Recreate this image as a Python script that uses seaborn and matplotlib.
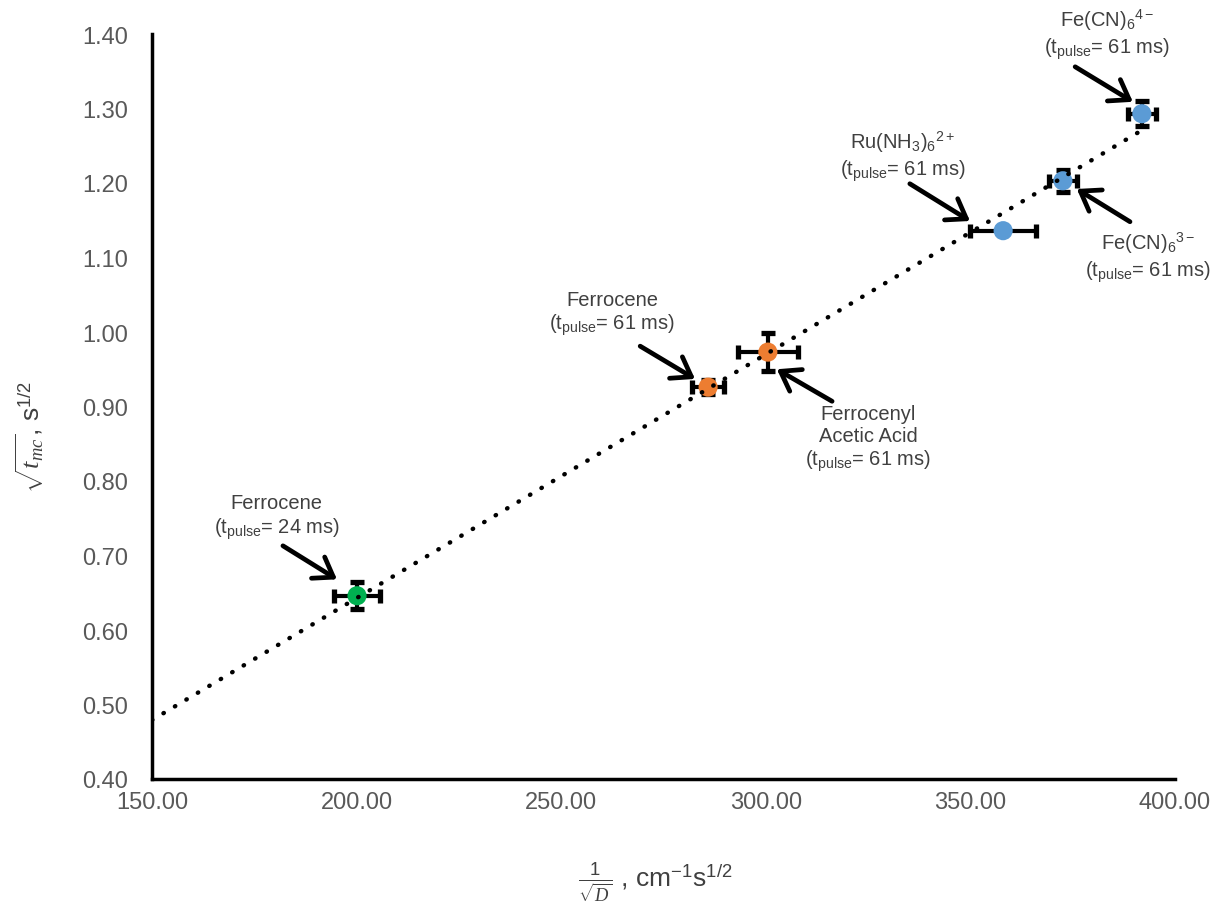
import numpy as np
import pandas as pd
import matplotlib
matplotlib.use("Agg")
import matplotlib.pyplot as plt
import seaborn as sns

# ---- data ----
species = ["Ferrocene 24 ms", "Ferrocene 61 ms", "Ferrocenyl Acetic Acid",
           "Ru(NH3)6 2+", "Fe(CN)6 3-", "Fe(CN)6 4-"]
group = ["green", "orange", "orange", "blue", "blue", "blue"]
inv_sqrt_d = [200.1, 285.9, 300.5, 358.0, 372.6, 391.9]
sqrt_tmc = [0.646, 0.926, 0.973, 1.136, 1.203, 1.293]
x_err = [5.7, 3.9, 7.3, 8.1, 3.5, 3.4]
y_err = [0.018, 0.009, 0.025, 0.003, 0.015, 0.017]
x_ticks = [150, 200, 250, 300, 350, 400]
y_ticks = [0.40, 0.50, 0.60, 0.70, 0.80, 0.90, 1.00, 1.10, 1.20, 1.30, 1.40]

palette = {"green": "#00B050", "orange": "#ED7D31", "blue": "#5B9BD5"}

df = pd.DataFrame({"species": species, "group": group, "x": inv_sqrt_d,
                   "y": sqrt_tmc, "xerr": x_err, "yerr": y_err})

# annotations: label text, text position, arrow tail, arrow tip (data coords)
pulse61 = "(t$_{\\mathrm{pulse}}$= 61 ms)"
labels = [
    ("Ferrocene\n(t$_{\\mathrm{pulse}}$= 24 ms)", (180.5, 0.752), (182.0, 0.713), (195.2, 0.668)),
    ("Ferrocene\n" + pulse61, (262.4, 1.025), (269.3, 0.981), (282.7, 0.937)),
    ("Ferrocenyl\nAcetic Acid\n" + pulse61, (325.0, 0.857), (316.2, 0.907), (302.7, 0.950)),
    ("Ru(NH$_{\\mathrm{3}}$)$_{\\mathrm{6}}$$^{\\mathrm{2+}}$\n" + pulse61, (333.5, 1.236), (335.2, 1.199), (349.9, 1.149)),
    ("Fe(CN)$_{\\mathrm{6}}$$^{\\mathrm{3-}}$\n" + pulse61, (393.4, 1.101), (389.0, 1.148), (376.0, 1.192)),
    ("Fe(CN)$_{\\mathrm{6}}$$^{\\mathrm{4-}}$\n" + pulse61, (383.4, 1.400), (375.6, 1.356), (389.7, 1.309)),
]

sns.set_theme(style="white")
plt.rcParams["font.family"] = ["Liberation Sans", "DejaVu Sans"]
plt.rcParams["mathtext.fontset"] = "custom"
plt.rcParams["mathtext.rm"] = "Liberation Sans"
plt.rcParams["mathtext.it"] = "Liberation Serif:italic"
plt.rcParams["mathtext.bf"] = "Liberation Sans:bold"

fig = plt.figure(figsize=(12.16, 9.04), dpi=100)
ax = fig.add_axes([152 / 1216, 1 - 780 / 904, 1023 / 1216, 745 / 904])

# error bars
ax.errorbar(df["x"], df["y"], xerr=df["xerr"], yerr=df["yerr"], fmt="none",
            ecolor="black", elinewidth=3.0, capsize=5, capthick=3.8, zorder=2)

# markers
sns.scatterplot(data=df, x="x", y="y", hue="group", palette=palette, s=190,
                edgecolor="none", legend=False, ax=ax, zorder=3)

# linear trendline
slope, intercept = np.polyfit(df["x"], df["y"], 1)
xl = np.linspace(150, max(inv_sqrt_d), 50)
ax.plot(xl, slope * xl + intercept, color="black", lw=3.2,
        linestyle=(0, (0.1, 2.9)), dash_capstyle="round", zorder=4)

# annotations
for txt, tpos, tail, tip in labels:
    ax.annotate("", xy=tip, xytext=tail,
                arrowprops=dict(arrowstyle="->,head_length=0.65,head_width=0.45",
                                color="black", lw=3.4, mutation_scale=20,
                                shrinkA=0, shrinkB=0),
                annotation_clip=False, zorder=5)
    ax.text(tpos[0], tpos[1], txt, ha="center", va="center", fontsize=14.5,
            color="#404040", linespacing=1.2, zorder=6, clip_on=False)

ax.set_xlim(150, 400)
ax.set_ylim(0.40, 1.40)
ax.set_xticks(x_ticks)
ax.set_yticks(y_ticks)
ax.set_xticklabels([f"{v:.2f}" for v in x_ticks])
ax.set_yticklabels([f"{v:.2f}" for v in y_ticks])
ax.tick_params(axis="both", labelsize=17, labelcolor="#595959", colors="black",
               direction="out", length=6, width=2.5)
ax.tick_params(axis="both", labelcolor="#595959")
ax.tick_params(axis="x", pad=3)
ax.tick_params(axis="y", pad=11)
for side in ["top", "right"]:
    ax.spines[side].set_visible(False)
for side in ["left", "bottom"]:
    ax.spines[side].set_color("black")
    ax.spines[side].set_linewidth(2.5)
ax.grid(False)

ax.set_xlabel("$\\frac{1}{\\sqrt{D}}$ , cm$^{\\mathrm{-1}}$s$^{\\mathrm{1/2}}$",
              fontsize=19, color="#404040", va="center", ha="center")
ax.set_ylabel("$\\sqrt{t_{mc}}$, s$^{\\mathrm{1/2}}$", fontsize=19, color="#404040",
              va="center", ha="center")
ax.xaxis.set_label_coords(0.492, -0.138)
ax.yaxis.set_label_coords(-0.119, 0.46)

fig.savefig("out.png", dpi=100)
